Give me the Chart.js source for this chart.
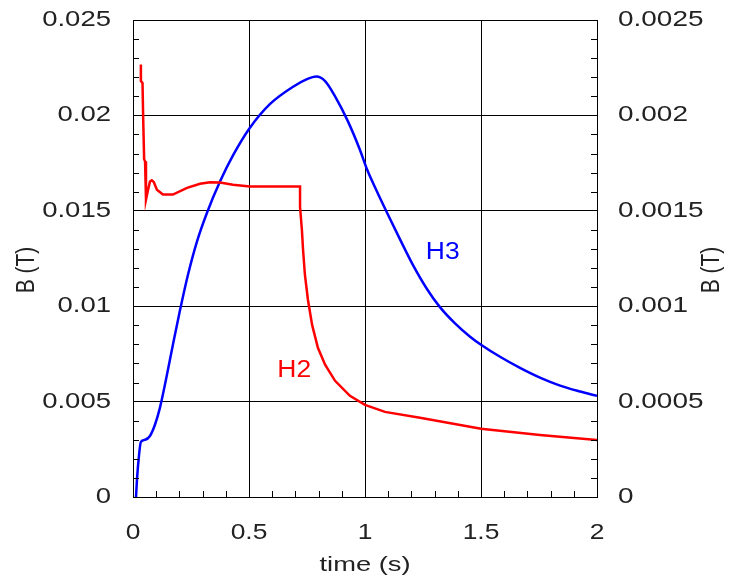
<!DOCTYPE html>
<html>
<head>
<meta charset="utf-8">
<script src="https://cdn.jsdelivr.net/npm/chart.js@4.4.0/dist/chart.umd.min.js"></script>
<style>
  html, body { margin: 0; padding: 0; background: #fff; }
  #wrap { width: 733px; height: 577px; }
</style>
</head>
<body>
<div id="wrap"><canvas id="myChart" width="733" height="577"></canvas></div>
<script>
// H2 harmonic (T)
const h2Time = [0.034, 0.034, 0.041, 0.044, 0.048, 0.052, 0.056, 0.065, 0.073, 0.081, 0.090, 0.103,
    0.129, 0.172, 0.233, 0.289, 0.332, 0.375, 0.431, 0.504, 0.720, 0.720, 0.728, 0.733, 0.741,
    0.754, 0.772, 0.797, 0.828, 0.871, 0.935, 1.0, 1.086, 1.237, 1.5, 1.754, 2.0];
const h2B = [0.02267, 0.0218, 0.0217, 0.0198, 0.0177, 0.0176, 0.01558, 0.0161, 0.01653, 0.0166, 0.0165, 0.0161,
    0.01585, 0.01585, 0.0162, 0.01642, 0.0165, 0.01648, 0.01637, 0.01627, 0.01627, 0.0152, 0.0140, 0.01296, 0.01165,
    0.01034, 0.00902, 0.00782, 0.00693, 0.00609, 0.0053, 0.00483, 0.00446, 0.00415, 0.00358, 0.00325, 0.00299];

// H3 harmonic (T)
const h3Time = [0.013, 0.017, 0.026, 0.034, 0.052, 0.073, 0.095, 0.116, 0.142, 0.172, 0.203, 0.237,
    0.276, 0.319, 0.375, 0.431, 0.504, 0.591, 0.690, 0.750, 0.790, 0.828, 0.871, 0.926, 0.978,
    1.009, 1.052, 1.095, 1.151, 1.207, 1.267, 1.323, 1.388, 1.453, 1.5, 1.582, 1.668, 1.754, 1.841, 1.927, 2.0];
const h3B = [0.0, 0.000089, 0.00022, 0.000289, 0.0003, 0.00032, 0.00038, 0.000467, 0.000614, 0.000798, 0.000981, 0.001165,
    0.001340, 0.00149, 0.001653, 0.001790, 0.001935, 0.002060, 0.002150, 0.002190, 0.002204, 0.002180, 0.002100, 0.001970, 0.001820,
    0.001716, 0.0016, 0.001490, 0.001350, 0.001215, 0.001090, 0.000995, 0.000910, 0.00084, 0.000798, 0.000735, 0.000677, 0.000626, 0.000584, 0.000553, 0.00053];

const xTicks = [0, 0.5, 1, 1.5, 2];
const leftTicks = [0, 0.005, 0.01, 0.015, 0.02, 0.025];
const rightTicks = [0, 0.0005, 0.001, 0.0015, 0.002, 0.0025];

const seriesLabels = [
    { text: 'H2', x: 0.695, y: 0.0066, color: '#ff0000' },
    { text: 'H3', x: 1.335, y: 0.0128, color: '#0000ff' }
];

const FONT = '"Liberation Sans", Arial, sans-serif';

function fmt(v) {
    return String(+v.toFixed(6));
}

// draws horizontally stretched text, like the original picture
function stretchText(ctx, str, x, y, size, sx, align, rotate) {
    ctx.save();
    ctx.translate(x, y);
    ctx.scale(sx, 1);
    if (rotate) ctx.rotate(-Math.PI / 2);
    ctx.font = size + 'px ' + FONT;
    ctx.textAlign = align;
    ctx.textBaseline = 'middle';
    ctx.fillText(str, 0, 0);
    ctx.restore();
}

const axisTextPlugin = {
    id: 'axisText',
    afterDraw(chart) {
        const ctx = chart.ctx;
        const xs = chart.scales.x;
        const yl = chart.scales.y;
        const yr = chart.scales.y1;
        const area = chart.chartArea;

        ctx.save();
        // minor ticks, inward
        ctx.strokeStyle = '#000';
        ctx.lineWidth = 1;
        ctx.beginPath();
        for (let i = 1; i < 25; i++) {
            if (i % 5 === 0) continue;
            const py = Math.round(yl.getPixelForValue(i * 0.001)) + 0.5;
            ctx.moveTo(area.left, py); ctx.lineTo(area.left + 6, py);
            ctx.moveTo(area.right, py); ctx.lineTo(area.right - 6, py);
        }
        for (let i = 1; i < 20; i++) {
            if (i % 5 === 0) continue;
            const px = Math.round(xs.getPixelForValue(i * 0.1)) + 0.5;
            ctx.moveTo(px, area.bottom); ctx.lineTo(px, area.bottom - 6);
        }
        ctx.stroke();

        ctx.fillStyle = '#222';
        leftTicks.forEach(v => {
            stretchText(ctx, fmt(v), area.left - 22, yl.getPixelForValue(v), 22, 1.25, 'right');
        });
        rightTicks.forEach(v => {
            stretchText(ctx, fmt(v), area.right + 21, yr.getPixelForValue(v), 22, 1.27, 'left');
        });
        xTicks.forEach(v => {
            stretchText(ctx, fmt(v), xs.getPixelForValue(v), area.bottom + 36, 22, 1.2, 'center');
        });

        stretchText(ctx, 'time (s)', (area.left + area.right) / 2, area.bottom + 68, 21, 1.3, 'center');
        stretchText(ctx, 'B (T)', 27, 270, 21, 1.25, 'center', true);
        stretchText(ctx, 'B (T)', 712, 270, 21, 1.25, 'center', true);

        seriesLabels.forEach(l => {
            ctx.fillStyle = l.color;
            stretchText(ctx, l.text, xs.getPixelForValue(l.x), yl.getPixelForValue(l.y), 23, 1.15, 'center');
        });
        ctx.restore();
    }
};

const ctx = document.getElementById('myChart');
new Chart(ctx, {
    type: 'line',
    data: {
        datasets: [
            {
                label: 'H2',
                data: h2Time.map((t, i) => ({ x: t, y: h2B[i] })),
                borderColor: '#ff0000',
                borderWidth: 2.5,
                pointRadius: 0,
                tension: 0,
                yAxisID: 'y'
            },
            {
                label: 'H3',
                data: h3Time.map((t, i) => ({ x: t, y: h3B[i] })),
                borderColor: '#0000ff',
                borderWidth: 2.5,
                pointRadius: 0,
                cubicInterpolationMode: 'monotone',
                yAxisID: 'y1'
            }
        ]
    },
    options: {
        responsive: false,
        animation: false,
        layout: { padding: { top: 20, left: 0, right: 0, bottom: 0 } },
        plugins: {
            legend: { display: false },
            tooltip: { enabled: false }
        },
        scales: {
            x: {
                type: 'linear',
                min: 0, max: 2,
                afterFit: s => { s.height = 80; },
                afterBuildTicks: s => { s.ticks = xTicks.map(v => ({ value: v })); },
                ticks: { display: false },
                grid: { color: '#000', lineWidth: 1, drawTicks: false },
                border: { color: '#000', width: 1 }
            },
            y: {
                position: 'left',
                min: 0, max: 0.025,
                afterFit: s => { s.width = 133; },
                afterBuildTicks: s => { s.ticks = leftTicks.map(v => ({ value: v })); },
                ticks: { display: false },
                grid: { color: '#000', lineWidth: 1, drawTicks: false },
                border: { color: '#000', width: 1 }
            },
            y1: {
                position: 'right',
                min: 0, max: 0.0025,
                afterFit: s => { s.width = 136; },
                afterBuildTicks: s => { s.ticks = rightTicks.map(v => ({ value: v })); },
                ticks: { display: false },
                grid: { display: false, drawTicks: false },
                border: { color: '#000', width: 1 }
            }
        }
    },
    plugins: [axisTextPlugin]
});
</script>
</body>
</html>
